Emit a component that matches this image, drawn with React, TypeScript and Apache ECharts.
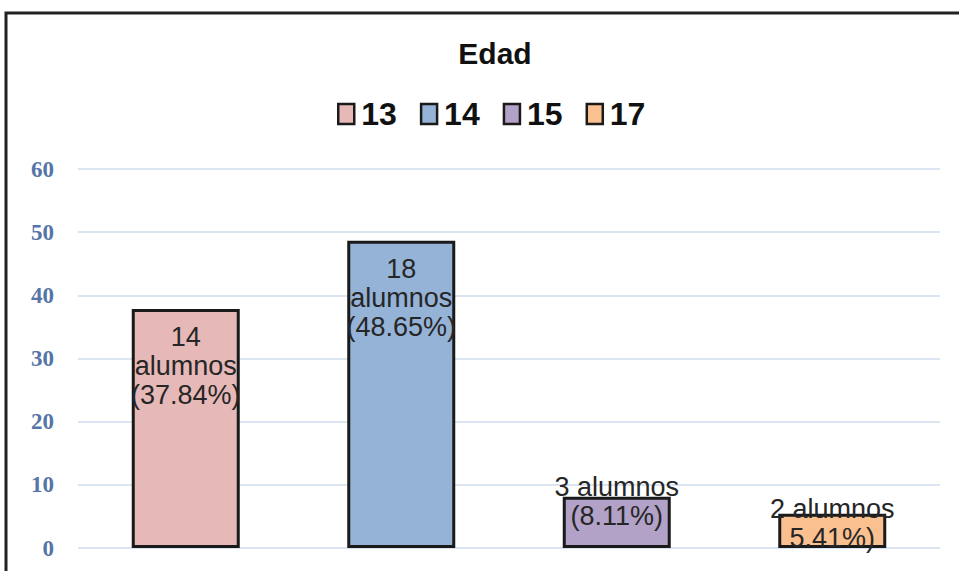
import React, { useEffect, useRef } from "react";
import * as echarts from "echarts";

const categories = ["13", "14", "15", "17"];
const percentages = [37.84, 48.65, 8.11, 5.41];
const labelTexts = [
  "14\nalumnos\n(37.84%)",
  "18\nalumnos\n(48.65%)",
  "3 alumnos\n(8.11%)",
  "2 alumnos\n5.41%)",
];
const colors = ["#e6b9b8", "#95b3d7", "#b3a2c7", "#fac08f"];
const yTicks = [0, 10, 20, 30, 40, 50, 60];

export default function App() {
  const ref = useRef<HTMLDivElement>(null);
  useEffect(() => {
    if (!ref.current) return;
    const chart = echarts.init(ref.current, null, { renderer: "svg" });
    const labelPositions: any[] = [
      { position: "insideTop", distance: 14 },
      { position: "insideTop", distance: 14 },
      { position: ["50%", -24] },
      { position: ["50%", -19] },
    ];
    const series = categories.map((c, i) => ({
      name: c,
      type: "bar",
      stack: "total",
      barWidth: 108,
      data: categories.map((_, j) => (j === i ? percentages[i] : null)),
      itemStyle: { color: colors[i], borderColor: "#1a1a1a", borderWidth: 3 },
      label: {
        show: true,
        ...labelPositions[i],
        align: "center",
        verticalAlign: labelPositions[i].position === "insideTop" ? undefined : "top",
        formatter: () => labelTexts[i],
        fontFamily: "Liberation Sans, Arial, sans-serif",
        fontSize: 27,
        lineHeight: 29,
        color: "#262626",
      },
    }));
    chart.setOption({
      animation: false,
      backgroundColor: "#ffffff",
      title: {
        text: "Edad",
        left: 490,
        textAlign: "center",
        top: 33,
        textStyle: {
          fontFamily: "Liberation Sans, Arial, sans-serif",
          fontWeight: "bold",
          fontSize: 30,
          color: "#111",
        },
      },
      legend: {
        left: 332,
        top: 93,
        itemWidth: 16,
        itemHeight: 20,
        itemGap: 23,
        icon: "rect",
        data: categories.map((c, i) => ({
          name: c,
          itemStyle: { color: colors[i], borderColor: "#1a1a1a", borderWidth: 2.5 },
        })),
        textStyle: {
          fontFamily: "Liberation Sans, Arial, sans-serif",
          fontWeight: "bold",
          fontSize: 32,
          color: "#111",
          padding: [0, 0, 0, 2],
        },
      },
      grid: { left: 78, right: 19, top: 169, bottom: 23 },
      xAxis: {
        type: "category",
        data: categories,
        axisLine: { show: false },
        axisTick: { show: false },
        axisLabel: { show: false },
      },
      yAxis: {
        type: "value",
        min: yTicks[0],
        max: yTicks[yTicks.length - 1],
        interval: 10,
        axisLine: { show: false },
        axisTick: { show: false },
        axisLabel: {
          margin: 24,
          fontFamily: "Liberation Serif, Times New Roman, serif",
          fontWeight: "bold",
          fontSize: 23,
          color: "#5475a6",
        },
        splitLine: { lineStyle: { color: "#cfdcee", width: 1.5 } },
      },
      graphic: [
        {
          type: "rect",
          shape: { x: 6, y: 13, width: 1100, height: 1100 },
          style: { fill: "none", stroke: "#222", lineWidth: 3 },
          silent: true,
        },
      ],
      series,
    });
    return () => chart.dispose();
  }, []);
  return (
    <div
      ref={ref}
      style={{ position: "fixed", left: 0, top: 0, width: 959, height: 571 }}
    />
  );
}
